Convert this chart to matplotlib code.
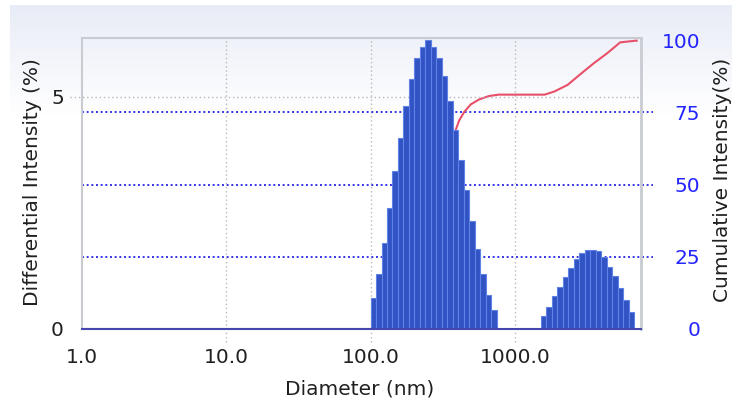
import matplotlib

matplotlib.use("Agg")

import matplotlib.pyplot as plt
import numpy as np
from matplotlib.ticker import NullLocator

# Differential intensity histogram: bin edges (nm) and heights (%) of the two populated regions
peak1_edges = [100.0, 109.2, 119.2, 130.1, 142.0, 155.1, 169.3, 184.8, 201.7, 220.2, 240.4, 262.5,
               286.5, 312.8, 341.5, 372.8, 407.0, 444.3, 485.1, 529.5, 578.1, 631.1, 688.9, 752.1]
peak1_values = [0.66, 1.18, 1.85, 2.61, 3.39, 4.12, 4.81, 5.39, 5.83, 6.08, 6.21, 6.08,
                5.83, 5.44, 4.91, 4.29, 3.64, 3.00, 2.33, 1.72, 1.18, 0.73, 0.41]
peak2_edges = [1517.4, 1656.5, 1808.4, 1974.2, 2155.2, 2352.8, 2568.5, 2804.0, 3061.1,
               3341.8, 3648.2, 3982.7, 4347.9, 4746.5, 5181.7, 5656.8, 6175.5, 6741.7]
peak2_values = [0.29, 0.48, 0.70, 0.90, 1.11, 1.31, 1.50, 1.63, 1.70,
                1.70, 1.67, 1.56, 1.34, 1.13, 0.88, 0.63, 0.37]

# Cumulative intensity curve (%)
cum_diam = [1.0, 100.0, 119.2, 142.0, 169.3, 201.7, 240.4, 286.5, 341.5, 372.8, 391.0, 412.0,
            446.0, 495.0, 564.0, 660.0, 774.0, 1611.0, 1885.0, 2327.0, 2869.0, 3538.0,
            4365.0, 5383.0, 7000.0]
cum_values = [0.0, 0.0, 1.8, 6.3, 13.8, 24.0, 35.9, 48.2, 59.5, 64.4, 69.1, 72.2,
              75.1, 77.7, 79.4, 80.6, 81.1, 81.1, 82.2, 84.5, 88.3, 92.0,
              95.4, 99.2, 99.8]

x_ticks = [1, 10, 100, 1000]
x_tick_labels = ["1.0", "10.0", "100.0", "1000.0"]
left_ticks = [0, 5]
right_ticks = [0, 25, 50, 75, 100]

W, H = 736, 403
L, R, T, B = 82, 641, 38, 329
FS = 14.5
TEXT = "#202020"

fig = plt.figure(figsize=(W / 100, H / 100), dpi=100)
fig.patch.set_facecolor("white")

# panel background with a light gradient at the top
bg = fig.add_axes([10 / W, 0, 722 / W, 1 - 5 / H])
bg.set_zorder(-10)
bg.axis("off")
rows = 398
fade = np.clip(np.arange(rows) / 110.0, 0, 1)[:, None]
top = np.array([232, 236, 246]) / 255.0
grad = (top[None, :] * (1 - fade) + fade)[:, None, :]
bg.imshow(grad, aspect="auto", extent=[0, 1, 0, 1])

ax = fig.add_axes([L / W, 1 - B / H, (R - L) / W, (B - T) / H])
ax2 = ax.twinx()
ax.set_zorder(2)
ax2.set_zorder(1)
ax.patch.set_visible(False)
ax2.patch.set_visible(False)

ax.set_xscale("log")
ax.set_xlim(1, 7500)
ax.set_ylim(0, 6.263)
ax2.set_ylim(0, 100.7)

# grid lines
for d in x_ticks[1:]:
    ax2.axvline(d, ymin=-13 / (B - T), ymax=1, clip_on=False, color="#b8b8b8",
                ls=(0, (1, 2)), lw=1.0, zorder=0.5)
ax.axhline(5, xmin=-12 / (R - L), xmax=1, clip_on=False, color="#b8b8b8",
           ls=(0, (1, 2)), lw=1.0, zorder=0.5)
for v in right_ticks[1:-1]:
    ax2.axhline(v, xmin=0, xmax=1 + 12 / (R - L), clip_on=False, color="#3434ea",
                ls=(0, (1, 1.4)), lw=1.4, zorder=0.6)

ax2.plot(cum_diam, cum_values, color="#e8506a", lw=1.5, zorder=1)

for edges, vals in [(peak1_edges, peak1_values), (peak2_edges, peak2_values)]:
    e = np.asarray(edges)
    ax.bar(e[:-1], vals, width=np.diff(e), align="edge", color="#3153c4",
           edgecolor="#5f82e6", linewidth=0.8, zorder=2)

for side in ["left", "top", "right"]:
    ax.spines[side].set_color("#c8ccd2")
    ax.spines[side].set_linewidth(1.5)
ax.spines["right"].set_linewidth(2.0)
ax.spines["bottom"].set_color("#4646b0")
ax.spines["bottom"].set_linewidth(1.5)
for s in ax2.spines.values():
    s.set_visible(False)

ax.set_xticks(x_ticks)
ax.set_xticklabels(x_tick_labels)
ax.xaxis.set_minor_locator(NullLocator())
ax.set_yticks(left_ticks)
ax.tick_params(axis="x", length=0, pad=14, labelsize=FS, labelcolor=TEXT)
ax.tick_params(axis="y", length=0, pad=13, labelsize=FS, labelcolor=TEXT)

ax2.set_yticks(right_ticks)
ax2.tick_params(axis="y", length=0, pad=42.5, labelsize=FS, labelcolor="#2424ff")
for lbl in ax2.get_yticklabels():
    lbl.set_horizontalalignment("right")

fig.text(33 / W, 1 - 182 / H, "Differential Intensity (%)", rotation=90,
         ha="center", va="center", fontsize=FS, color=TEXT)
fig.text(722 / W, 1 - 180 / H, "Cumulative Intensity(%)", rotation=90,
         ha="center", va="center", fontsize=FS, color=TEXT)
fig.text(360 / W, 1 - 389 / H, "Diameter (nm)", ha="center", va="center",
         fontsize=FS, color=TEXT)

fig.savefig("out.png", dpi=100, facecolor="white")
